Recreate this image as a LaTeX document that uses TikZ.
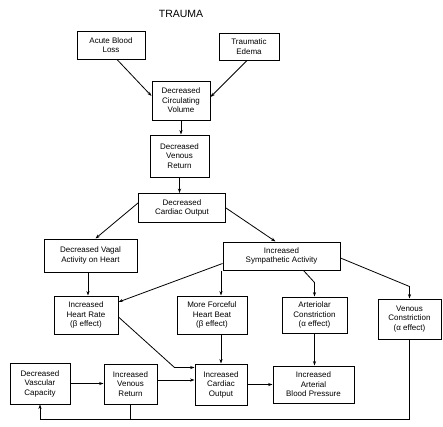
\documentclass[tikz,border=0pt]{standalone}
\usepackage{fontspec}
\setmainfont{Liberation Sans}
\usetikzlibrary{arrows.meta,calc}
\begin{document}
\begin{tikzpicture}[x=1pt,y=-1pt,
  box/.style={draw,line width=1pt,rectangle,inner sep=1pt,align=center,
    font=\fontsize{8}{9.5}\selectfont},
  arr/.style={line width=0.8pt,-{Stealth[length=4.5pt,width=3.2pt]}},
  ln/.style={line width=0.8pt}]
\useasboundingbox (0,0) rectangle (443,426);
\node[font=\fontsize{10.5}{12}\selectfont] (title) at (181,14) {TRAUMA};
\node[box,minimum width=68pt,minimum height=28pt] (abl) at (111,45) {Acute Blood\\Loss};
\node[box,minimum width=60pt,minimum height=27pt] (ted) at (249,46.5) {Traumatic\\Edema};
\node[box,minimum width=58pt,minimum height=39pt] (dcv) at (181,100.5) {Decreased\\Circulating\\Volume};
\node[box,minimum width=59pt,minimum height=42pt] (dvr) at (179.5,156) {Decreased\\Venous\\Return};
\node[box,minimum width=87pt,minimum height=29pt] (dco) at (182,208) {Decreased\\Cardiac Output};
\node[box,minimum width=93pt,minimum height=33pt] (dva) at (90.5,255.5) {Decreased Vagal\\Activity on Heart};
\node[box,minimum width=117pt,minimum height=28pt] (isa) at (281.5,256) {Increased\\Sympathetic Activity};
\node[box,minimum width=64pt,minimum height=38pt] (ihr) at (86,315) {Increased\\Heart Rate\\(β effect)};
\node[box,minimum width=70pt,minimum height=38pt] (mfh) at (212,315) {More Forceful\\Heart Beat\\(β effect)};
\node[box,minimum width=65pt,minimum height=36pt] (arc) at (314.5,315) {Arteriolar\\Constriction\\(α effect)};
\node[box,minimum width=63pt,minimum height=40pt] (vco) at (409.5,319) {Venous\\Constriction\\(α effect)};
\node[box,minimum width=60pt,minimum height=41pt] (dvc) at (40,383.5) {Decreased\\Vascular\\Capacity};
\node[box,minimum width=53pt,minimum height=40pt] (ivr) at (130.5,384) {Increased\\Venous\\Return};
\node[box,minimum width=52pt,minimum height=41pt] (ico) at (221,384.5) {Increased\\Cardiac\\Output};
\node[box,minimum width=81pt,minimum height=37pt] (iabp) at (313.5,384.5) {Increased\\Arterial\\Blood Pressure};
% connectors
\draw[arr] ($(abl.south)+(6,0)$) -- ($(dcv.west)+(0,-4.5)$);
\draw[arr] ($(ted.south)+(-2,0)$) -- ($(dcv.east)+(0,-3.5)$);
\draw[arr] (dcv.south) -- (dcv.south |- dvr.north);
\draw[arr] (dvr.south) -- (dvr.south |- dco.north);
\draw[arr] ($(dco.west)+(0,-5)$) -- ($(dva.north)+(5,0)$);
\draw[arr] (dco.east) -- ($(isa.north)+(-6,0)$);
\draw[arr] ($(dva.south)+(-2.5,0)$) -- ($(ihr.north)+(2,0)$);
\draw[arr] ($(isa.south west)+(0,-7)$) -- ($(ihr.east)+(0,-13)$);
\draw[arr] (ico.north |- isa.south) -- (ico.north |- mfh.north);
\draw[arr] ($(isa.south)+(22,0)$) -- ($(arc.north)+(0,-14)$) -- (arc.north);
\draw[arr] ($(isa.east)+(0,2)$) -- ($(vco.north)+(0,-12)$) -- (vco.north);
\draw[arr] ($(ihr.east)+(0,2)$) -- ($(ico.west)+(-20,-17)$) -- ($(ico.west)+(0,-17)$);
\draw[arr] (ico.north |- mfh.south) -- (ico.north);
\draw[arr] (arc.south) -- (arc.south |- iabp.north);
\draw[arr] (dvc.east) -- (dvc.east -| ivr.west);
\coordinate (c1) at ($(ivr.east)+(0,-4)$);
\draw[arr] (c1) -- (c1 -| ico.west);
\draw[arr] (ico.east) -- (ico.east -| iabp.west);
\coordinate (fb) at (0,419);
\draw[arr] (vco.south) -- (vco.south |- fb) -- (dvc.south |- fb) -- (dvc.south);
\draw[ln] (ivr.south |- fb) -- (ivr.south);
\end{tikzpicture}
\end{document}
